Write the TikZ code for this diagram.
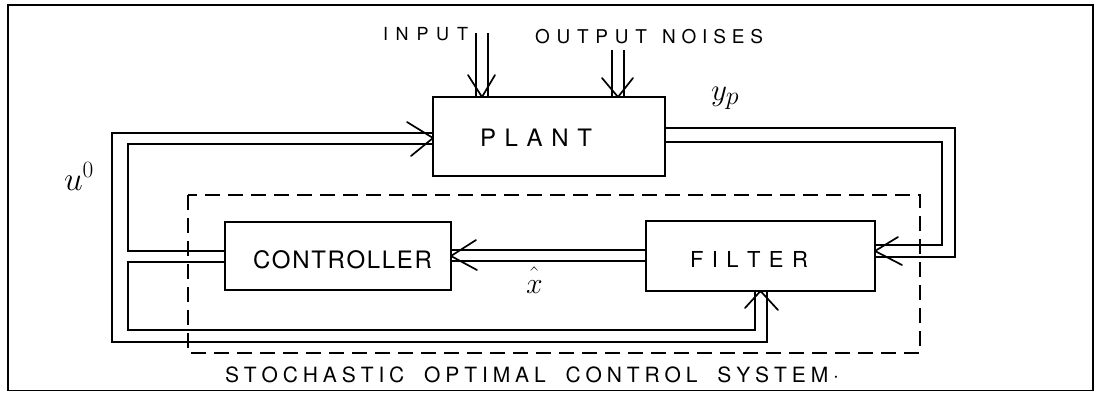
\documentclass[tikz,border=0pt]{standalone}
\usepackage{fontspec}
\setmainfont{TeX Gyre Heros}
\usetikzlibrary{calc}
\newcommand{\LS}{\hfill}
\newcommand{\WS}{\hfill\hspace{10pt}\hfill}
\begin{document}
\begin{tikzpicture}[x=1pt,y=-1pt,
  box/.style={draw, rectangle, line width=1.7pt, inner sep=0pt, outer sep=0pt},
  wire/.style={draw, line width=1.7pt},
  head/.style={draw, line width=1.7pt, line cap=round, line join=round},
  lbl/.style={anchor=base west, inner sep=0pt, outer sep=0pt},
  mlbl/.style={anchor=base west, inner sep=0pt, outer sep=0pt, font=\Huge},
  frame/.style={draw, line width=1.7pt},
  dashbox/.style={draw, line width=1.7pt, dash pattern=on 15pt off 8pt}]
\useasboundingbox (0,0) rectangle (1098,392);
\draw[frame] (8,5) rectangle (1093,390.5);

% blocks
\node[box, minimum width=232pt, minimum height=79pt] (plant) at (549,136.5) {};
\node[box, minimum width=226pt, minimum height=68pt] (ctrl) at (338,256) {};
\node[box, minimum width=229pt, minimum height=70pt] (filt) at (760.5,256) {};

% block texts
\node[lbl] (tPlant) at (480,146) {\fontsize{24}{24}\selectfont\makebox[112pt][s]{P\LS L\LS A\LS N\LS T}};
\node[lbl] (tCtrl) at (253,268) {\fontsize{24}{24}\selectfont\makebox[179pt][s]{C\LS O\LS N\LS T\LS R\LS O\LS L\LS L\LS E\LS R}};
\node[lbl] (tFilt) at (690,267) {\fontsize{22}{22}\selectfont\makebox[118pt][s]{F\LS I\LS L\LS T\LS E\LS R}};

% top labels
\node[lbl] (tIn) at (383,40) {\fontsize{18}{18}\selectfont\makebox[85pt][s]{I\LS N\LS P\LS U\LS T}};
\node[lbl] (tNoise) at (535,43) {\fontsize{19}{19}\selectfont\makebox[112pt][s]{O\LS U\LS T\LS P\LS U\LS T}\hspace{15pt}\makebox[101pt][s]{N\LS O\LS I\LS S\LS E\LS S}};
\node[lbl] (tSys) at (225,382) {\fontsize{21}{21}\selectfont\makebox[614pt][s]{S\LS T\LS O\LS C\LS H\LS A\LS S\LS T\LS I\LS C\WS O\LS P\LS T\LS I\LS M\LS A\LS L\WS C\LS O\LS N\LS T\LS R\LS O\LS L\WS S\LS Y\LS S\LS T\LS E\LS M\LS ·}};

% math labels
\node[mlbl, scale=1.35] (tu) at (64,190) {$u^{\scriptscriptstyle 0}$};
\node[mlbl, scale=1.25] (typ) at (711,100) {$y_{p}$};
\node[mlbl, scale=1.2] (txh) at (526,293) {$\hat{\vphantom{t}x}$};

% coordinates on the blocks
\coordinate (pA) at ($(plant.west)+(0,-3.5)$);
\coordinate (pB) at ($(plant.west)+(0,7.5)$);
\coordinate (cA) at ($(ctrl.west)+(0,-5)$);
\coordinate (cB) at ($(ctrl.west)+(0,6)$);
\coordinate (fA) at ($(filt.south)+(-5.5,0)$);
\coordinate (fB) at ($(filt.south)+(6.5,0)$);
\coordinate (fL1) at ($(filt.west)+(0,-6)$);
\coordinate (fL2) at ($(filt.west)+(0,5)$);
\coordinate (yA) at ($(plant.east)+(0,-8.5)$);
\coordinate (yB) at ($(plant.east)+(0,5.5)$);
\coordinate (fR1) at ($(filt.east)+(0,-11)$);
\coordinate (fR2) at ($(filt.east)+(0,1)$);
\coordinate (inA) at (476,33);
\coordinate (inB) at (488,33);
\coordinate (nzA) at (612,50);
\coordinate (nzB) at (624,50);

% controller -> plant / filter (double lines)
\draw[wire] (pA) -| (112,342) -| (fB);
\draw[wire] (pB) -| (128,251) -- (cA);
\draw[wire] (cB) -| (128,330) -| (fA);
\draw[head] (407,122) -- ($(plant.west)+(0,1.5)$) -- (411,156);
\draw[head] (745,308) -- (filt.south) -- (778,310);

% filter -> controller
\draw[wire] (fL1) -- (fL1 -| ctrl.east);
\draw[wire] (fL2) -- (fL2 -| ctrl.east);
\draw[head] (476,240) -- (ctrl.east) -- (477,270);

% plant -> filter (y_p)
\draw[wire] (yA) -| (955,257) -- (fR2);
\draw[wire] (yB) -| (942,245) -- (fR1);
\draw[head] (898,237) -- ($(filt.east)+(0,-5)$) -- (902,265);

% input and output noises
\draw[wire] (inA) -- (inA |- plant.north);
\draw[wire] (inB) -- (inB |- plant.north);
\draw[head] (468,75) -- ($(inA |- plant.north)+(6,0)$) -- (495,75);
\draw[wire] (nzA) -- (nzA |- plant.north);
\draw[wire] (nzB) -- (nzB |- plant.north);
\draw[head] (602,78) -- ($(nzA |- plant.north)+(6,0)$) -- (633,78);

% system boundary
\draw[dashbox] (188,195) rectangle (920,353);
\end{tikzpicture}
\end{document}
